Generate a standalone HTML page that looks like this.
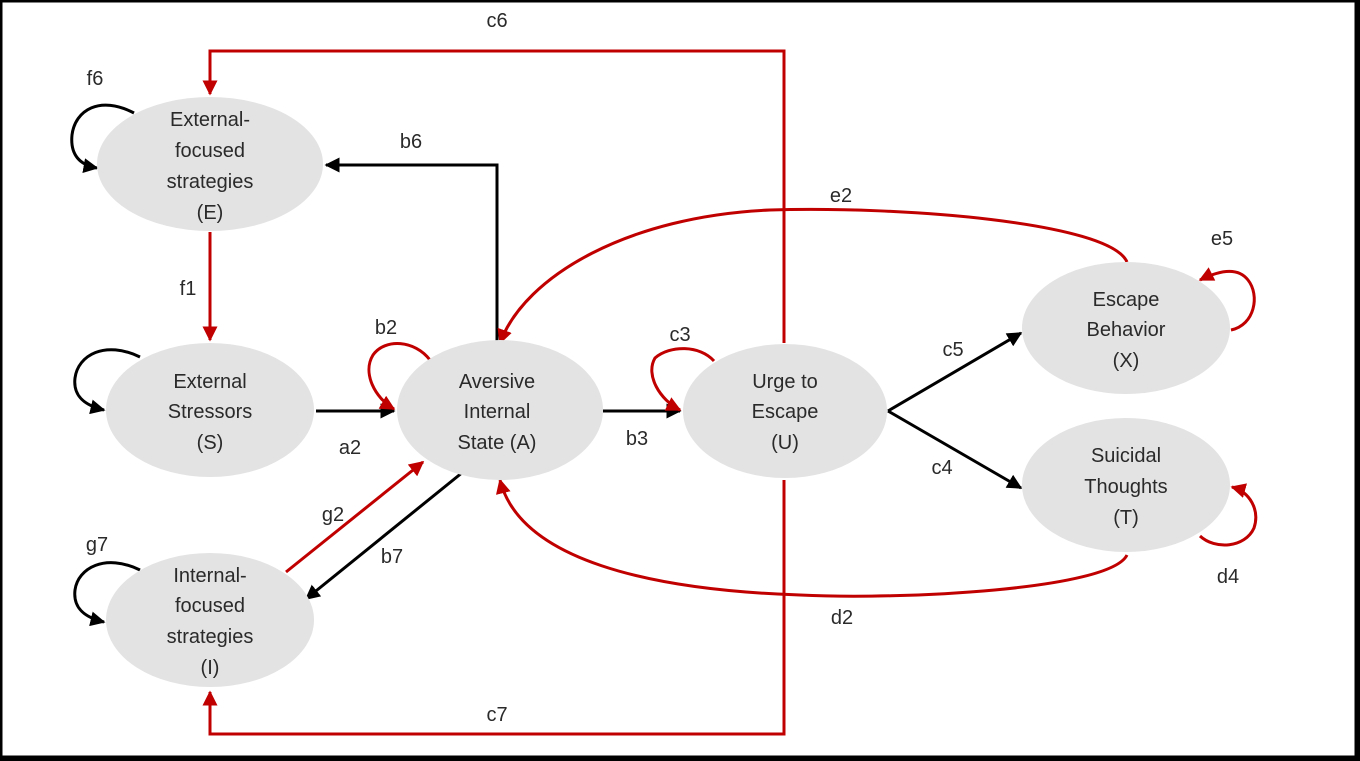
<!DOCTYPE html>
<html><head><meta charset="utf-8"><style>
html,body{margin:0;padding:0;background:#fff}
svg{display:block}
text{font-family:"Liberation Sans",sans-serif;font-size:20px;fill:#2a2a2a;text-anchor:middle}
</style></head><body>
<svg width="1360" height="761" viewBox="0 0 1360 761" xmlns="http://www.w3.org/2000/svg">
<defs>
<marker id="ar" viewBox="0 0 10 10" refX="9" refY="5" markerWidth="5" markerHeight="5" orient="auto"><path d="M0,0L10,5L0,10z" fill="#c00000"/></marker>
<marker id="ab" viewBox="0 0 10 10" refX="9" refY="5" markerWidth="5" markerHeight="5" orient="auto"><path d="M0,0L10,5L0,10z" fill="#000"/></marker>
</defs>
<rect x="1" y="1" width="1355" height="756" fill="none" stroke="#000" stroke-width="3"/>
<rect x="1356" y="0" width="4" height="761" fill="#000"/>
<rect x="0" y="757" width="1360" height="4" fill="#000"/>
<g fill="none" stroke-width="3">
<path d="M784,343 V51 H210 V94" stroke="#c00000" marker-end="url(#ar)"/>
<path d="M784,480 V734 H210 V692" stroke="#c00000" marker-end="url(#ar)"/>
<path d="M210,232 V340" stroke="#c00000" marker-end="url(#ar)"/>
<path d="M497,343 V165 H326" stroke="#000" marker-end="url(#ab)"/>
<path d="M316,411 H394" stroke="#000" marker-end="url(#ab)"/>
<path d="M603,411 H680" stroke="#000" marker-end="url(#ab)"/>
<path d="M888,411 L1021,333" stroke="#000" marker-end="url(#ab)"/>
<path d="M888,411 L1021,488" stroke="#000" marker-end="url(#ab)"/>
<path d="M286,572 L423,462" stroke="#c00000" marker-end="url(#ar)"/>
<path d="M463,472 L306,599" stroke="#000" marker-end="url(#ab)"/>
<path d="M1127,262 C1110,222 900,206 770,210 C630,216 525,275 500,343" stroke="#c00000" marker-end="url(#ar)"/>
<path d="M1127,555 C1110,590 900,600 800,595 C650,590 520,560 500,480" stroke="#c00000" marker-end="url(#ar)"/>
<path d="M134,113 C100,95 75,110 72,135 C70,155 80,165 97,168" stroke="#000" marker-end="url(#ab)"/>
<path d="M140,357 C105,340 78,355 75,378 C73,395 83,405 104,410" stroke="#000" marker-end="url(#ab)"/>
<path d="M140,570 C105,553 78,568 75,590 C73,607 83,617 104,622" stroke="#000" marker-end="url(#ab)"/>
<path d="M430,360 C415,340 385,338 373,355 C362,373 375,398 394,409" stroke="#c00000" marker-end="url(#ar)"/>
<path d="M714,361 C700,345 670,345 655,358 C645,375 660,400 680,410" stroke="#c00000" marker-end="url(#ar)"/>
<path d="M1231,330 C1255,325 1260,295 1248,280 C1238,267 1220,270 1200,280" stroke="#c00000" marker-end="url(#ar)"/>
<path d="M1200,536 C1215,550 1245,548 1254,528 C1260,510 1250,492 1232,487" stroke="#c00000" marker-end="url(#ar)"/>
</g>
<g fill="#e3e3e3">
<ellipse cx="210" cy="164" rx="113" ry="67"/>
<ellipse cx="210" cy="410" rx="104" ry="67"/>
<ellipse cx="210" cy="620" rx="104" ry="67"/>
<ellipse cx="500" cy="410" rx="103" ry="70"/>
<ellipse cx="785" cy="411" rx="102" ry="67"/>
<ellipse cx="1126" cy="328" rx="104" ry="66"/>
<ellipse cx="1126" cy="485" rx="104" ry="67"/>
</g>
<text x="210" y="126">External-</text><text x="210" y="157">focused</text><text x="210" y="188">strategies</text><text x="210" y="219">(E)</text>
<text x="210" y="388">External</text><text x="210" y="418">Stressors</text><text x="210" y="449">(S)</text>
<text x="210" y="582">Internal-</text><text x="210" y="612">focused</text><text x="210" y="643">strategies</text><text x="210" y="674">(I)</text>
<text x="497" y="388">Aversive</text><text x="497" y="418">Internal</text><text x="497" y="449">State (A)</text>
<text x="785" y="388">Urge to</text><text x="785" y="418">Escape</text><text x="785" y="449">(U)</text>
<text x="1126" y="306">Escape</text><text x="1126" y="336">Behavior</text><text x="1126" y="367">(X)</text>
<text x="1126" y="462">Suicidal</text><text x="1126" y="493">Thoughts</text><text x="1126" y="524">(T)</text>
<text x="497" y="27">c6</text>
<text x="95" y="85">f6</text>
<text x="411" y="148">b6</text>
<text x="841" y="202">e2</text>
<text x="1222" y="245">e5</text>
<text x="188" y="295">f1</text>
<text x="386" y="334">b2</text>
<text x="680" y="341">c3</text>
<text x="953" y="356">c5</text>
<text x="350" y="454">a2</text>
<text x="637" y="445">b3</text>
<text x="942" y="474">c4</text>
<text x="333" y="521">g2</text>
<text x="392" y="563">b7</text>
<text x="97" y="551">g7</text>
<text x="1228" y="583">d4</text>
<text x="842" y="624">d2</text>
<text x="497" y="721">c7</text>
</svg>
</body></html>
